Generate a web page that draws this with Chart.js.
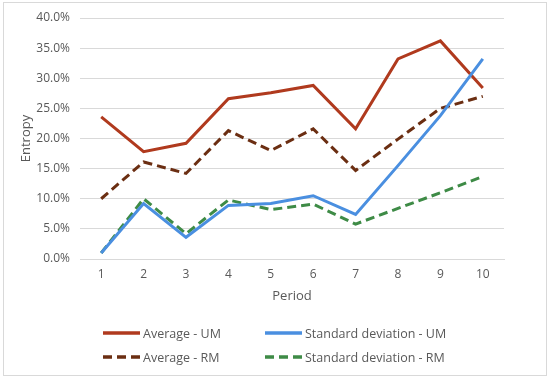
<!DOCTYPE html>
<html>
<head>
<meta charset="utf-8">
<script src="https://cdn.jsdelivr.net/npm/chart.js@4/dist/chart.umd.min.js"></script>
<style>
  html, body { margin: 0; padding: 0; background: #fff; }
  #wrap { position: relative; width: 550px; height: 380px; }
  #frame { position: absolute; left: 3px; top: 2px; width: 542px; height: 372px; border: 1px solid #d9d9d9; }
  #chartLegend { position: absolute; left: 0; top: 0; width: 550px; height: 380px; pointer-events: none;
                 font-family: 'Open Sans', 'Noto Sans', sans-serif; font-size: 12.5px; color: #595959; }
  .legend-item { position: absolute; display: flex; align-items: center; white-space: nowrap; }
  .legend-item svg { margin-right: 3px; }
</style>
</head>
<body>
<div id="wrap">
  <div id="frame"></div>
  <canvas id="entropyChart" width="550" height="380"></canvas>
  <div id="chartLegend"></div>
</div>
<script>
// data (percent)
var periods   = ['1','2','3','4','5','6','7','8','9','10'];
var avgUM     = [23.6, 17.8, 19.2, 26.6, 27.6, 28.8, 21.6, 33.2, 36.2, 28.4];
var stdUM     = [1.0, 9.2, 3.6, 8.9, 9.2, 10.5, 7.4, 15.5, 23.8, 33.2];
var avgRM     = [10.0, 16.1, 14.2, 21.3, 18.0, 21.6, 14.7, 19.9, 25.0, 27.0];
var stdRM     = [1.0, 10.0, 4.2, 9.8, 8.2, 9.1, 5.8, 8.4, 11.0, 13.7];
var seriesNames = ['Average - UM', 'Standard deviation - UM', 'Average - RM', 'Standard deviation - RM'];

var colors = ['#b03a1e', '#4a8fe0', '#6b2e12', '#3e8b46'];
var dashes = [[], [], [9, 5], [9, 5]];
var seriesData = [avgUM, stdUM, avgRM, stdRM];

var datasets = seriesData.map(function (vals, i) {
    return {
        label: seriesNames[i],
        data: vals,
        borderColor: colors[i],
        backgroundColor: colors[i],
        borderWidth: 3,
        borderDash: dashes[i],
        pointRadius: 0,
        tension: 0,
        fill: false
    };
});

// draw order: std lines under average lines like the original
datasets[0].order = 2; datasets[1].order = 1; datasets[2].order = 3; datasets[3].order = 4;

var FONT = "'Open Sans', 'Noto Sans', sans-serif";

new Chart(document.getElementById('entropyChart'), {
    type: 'line',
    data: { labels: periods, datasets: datasets },
    options: {
        responsive: false,
        animation: false,
        layout: { padding: { left: 0, right: 46, top: 18, bottom: 72 } },
        plugins: { legend: { display: false }, tooltip: { enabled: false } },
        scales: {
            x: {
                offset: true,
                grid: { display: false, drawTicks: false },
                border: { color: '#d9d9d9' },
                ticks: { color: '#595959', font: { family: FONT, size: 12 }, padding: 8 },
                title: { display: true, text: 'Period', color: '#595959', font: { family: FONT, size: 13 }, padding: { top: 4 } },
                afterFit: function (s) { s.height = 49; }
            },
            y: {
                min: 0, max: 40,
                grid: { color: '#d9d9d9', drawTicks: false },
                border: { display: false },
                ticks: {
                    stepSize: 5, color: '#595959', padding: 10,
                    font: { family: FONT, size: 12 },
                    callback: function (v) { return v.toFixed(1) + '%'; }
                },
                title: { display: true, text: 'Entropy', color: '#595959', font: { family: FONT, size: 13 }, padding: { top: 18, bottom: 2 } },
                afterFit: function (s) { s.width = 80; }
            }
        }
    }
});

/* legend, two rows of two like the original */
var legendEl = document.getElementById('chartLegend');
var legendPos = [[103, 333], [265, 333], [103, 357], [265, 357]];
seriesNames.forEach(function (name, i) {
    var it = document.createElement('div');
    it.className = 'legend-item';
    it.style.left = legendPos[i][0] + 'px';
    it.style.top = (legendPos[i][1] - 9) + 'px';
    it.style.height = '18px';
    var dash = dashes[i].length ? ' stroke-dasharray="' + dashes[i].join(',') + '"' : '';
    it.innerHTML = '<svg width="37" height="6"><line x1="0" y1="3" x2="37" y2="3" stroke="' + colors[i] +
        '" stroke-width="3.5"' + dash + '/></svg>' + name;
    legendEl.appendChild(it);
});
</script>
</body>
</html>
